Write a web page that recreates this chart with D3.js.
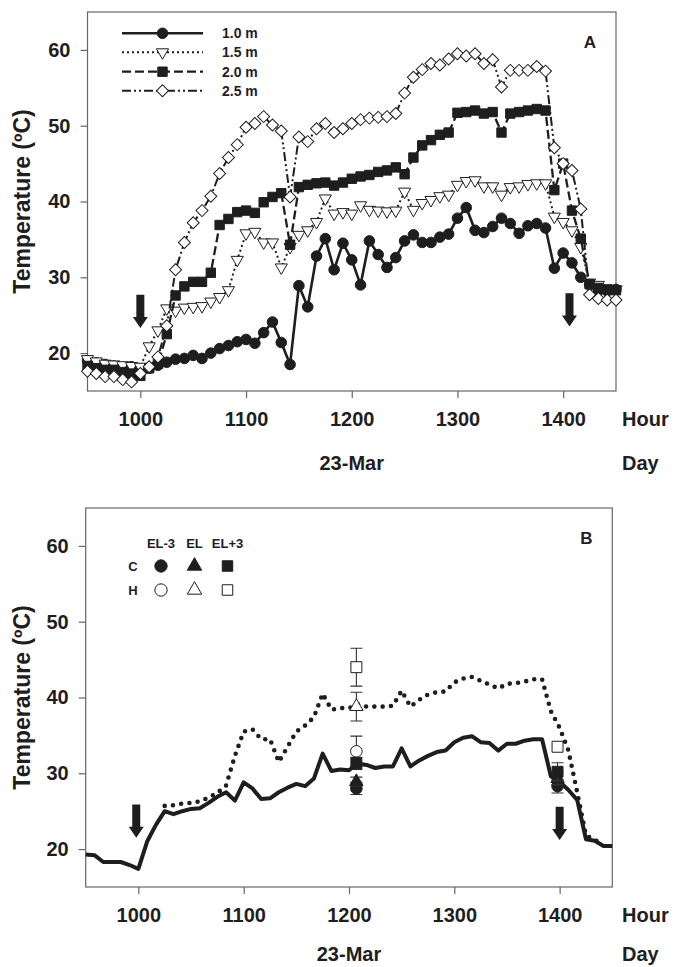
<!DOCTYPE html>
<html>
<head>
<meta charset="utf-8">
<script src="https://cdn.jsdelivr.net/npm/d3@7"></script>
<style>
  body { margin: 0; background: #fff; }
  svg { display: block; }
  text { font-family: "Liberation Sans", Arial, sans-serif; font-weight: bold; fill: #1e1e1e; }
</style>
</head>
<body>
<svg id="chart" width="677" height="967"></svg>
<script>
// sampling grid: one reading every 5 min, 0930 .. 1430 (axis uses hour*100)
const minutes = d3.range(0, 301, 5);
const hours = minutes.map(m => 950 + m * 100 / 60);

const xTicks = [1000, 1100, 1200, 1300, 1400];
const yTicks = [20, 30, 40, 50, 60];

// ---- panel A : temperature at 4 depths
const t10 = [19.0,18.7,18.5,18.3,18.0,18.2,17.6,18.0,18.4,18.8,
             19.2,19.3,19.7,19.3,20.0,20.6,21.0,21.5,21.8,21.3,
             22.7,24.1,21.4,18.5,28.9,26.1,32.8,35.1,31.0,34.5,
             32.3,29.0,34.8,33.0,31.3,32.6,34.8,35.6,34.6,34.6,
             35.3,35.7,37.8,39.2,36.2,35.9,36.7,37.8,37.1,35.8,
             36.8,37.1,36.5,31.2,33.2,31.9,30.0,29.0,28.3,28.2,
             28.4];
const t15 = [19.2,18.9,18.6,18.5,18.4,18.3,18.2,20.9,23.0,25.9,
             25.6,26.0,26.1,26.2,26.8,27.4,28.3,32.3,35.8,36.0,
             34.6,34.6,31.3,34.0,35.6,36.2,37.3,40.4,38.4,38.6,
             38.4,39.5,38.9,38.8,38.7,38.8,41.3,38.9,39.8,40.2,
             40.7,40.9,42.2,42.7,42.8,42.0,42.0,40.9,41.9,42.0,
             42.3,42.4,42.4,38.0,37.3,36.2,34.0,29.3,29.0,28.5,
             28.4];
const t20 = [18.3,18.0,17.8,17.8,17.5,17.3,17.0,18.0,18.6,22.5,
             27.6,28.8,29.4,29.4,30.6,36.9,37.7,38.6,38.8,38.5,
             39.9,40.6,41.1,34.3,41.9,42.2,42.4,42.5,42.1,42.5,
             43.0,43.3,43.5,43.9,44.1,44.5,43.6,45.8,47.4,48.1,
             48.8,49.1,51.7,51.8,52.0,51.6,51.8,49.1,51.6,51.8,
             52.0,52.2,52.0,41.5,45.0,38.8,35.1,29.1,28.6,28.4,
             28.3];
const t25 = [17.6,17.3,16.9,16.9,16.5,16.2,17.3,18.2,19.5,23.6,
             31.0,34.6,37.2,38.8,40.7,43.7,45.8,47.5,49.8,50.3,
             51.2,50.1,49.3,40.6,48.5,47.9,49.6,50.3,49.1,49.6,
             50.3,50.8,51.0,51.1,51.2,51.6,54.3,56.4,57.4,58.2,
             58.0,58.8,59.5,59.2,59.5,58.2,58.7,55.1,57.3,57.3,
             57.3,57.8,57.2,47.1,45.0,44.1,39.0,27.7,27.2,27.0,
             27.0];
const depthLabels = ["1.0 m", "1.5 m", "2.0 m", "2.5 m"];

// ---- panel B : two traces + point measurements
const bSolid = [19.3,19.2,18.3,18.3,18.3,17.9,17.4,21.0,23.2,25.0,
                24.6,25.0,25.3,25.4,26.1,26.9,27.5,26.4,28.8,28.0,
                26.6,26.7,27.5,28.1,28.6,28.3,29.3,32.6,30.3,30.5,
                30.4,31.3,31.1,30.7,30.9,30.9,33.3,30.9,31.7,32.3,
                32.8,33.0,34.1,34.7,34.9,34.1,34.0,33.0,33.9,33.9,
                34.3,34.5,34.5,29.6,28.9,27.8,26.5,21.3,21.1,20.4,
                20.4];
const bDottedStart = 9;   // dotted trace starts at sample 9 (1025)
const bDotted = [25.7,25.8,26.0,26.1,26.3,26.8,27.4,28.4,32.3,35.5,
                 35.8,34.5,34.5,31.5,33.5,35.5,36.3,37.4,40.5,38.4,
                 38.6,38.6,39.1,38.8,38.8,38.8,38.9,40.9,38.8,39.7,
                 40.4,40.7,40.8,42.0,42.5,42.7,42.2,41.7,41.2,41.8,
                 41.9,42.1,42.4,42.4,38.2,36.0,33.0,27.5,21.8,21.2,
                 20.6];

const obsHours = [1207, 1398];
const cELm3 = [28.0, 28.3], cELm3Err = [0.8, 0.9];
const cEL   = [28.9, 29.3], cELErr   = [0.6, 0.8];
const cELp3 = [31.3, 30.2], cELp3Err = [0.8, 1.2];
const hELm3 = [32.9, null], hELm3Err = [2.0, 0];
const hEL   = [38.8, null], hELErr   = [1.9, 0];
const hELp3 = [44.0, 33.5], hELp3Err = [2.5, 0];
const legendCols = ["EL-3", "EL", "EL+3"];

// arrows (hour, top temp, tip temp)
const arrowsA = [[1000, 27.7, 23.3], [1406, 27.9, 23.5]];
const arrowsB = [[998, 25.9, 21.5], [1400, 25.6, 21.2]];

const ink = "#1e1e1e";
const svg = d3.select("#chart");

const xA = d3.scaleLinear().domain([950, 1450]).range([87.5, 616]);
const yA = d3.scaleLinear().domain([15, 65]).range([391, 12]);
const xB = d3.scaleLinear().domain([950, 1450]).range([85.7, 612.3]);
const yB = d3.scaleLinear().domain([15, 65]).range([887, 508]);

function frameAndAxes(x, y, letter, dayGap) {
  const [x0, x1] = x.range();
  const [yb, yt] = y.range();
  svg.append("rect")
    .attr("x", x0).attr("y", yt).attr("width", x1 - x0).attr("height", yb - yt)
    .attr("fill", "none").attr("stroke", "#666").attr("stroke-width", 1.2);

  const gy = svg.append("g").attr("transform", `translate(${x0},0)`)
    .call(d3.axisLeft(y).tickValues(yTicks).tickSize(7).tickPadding(10));
  const gx = svg.append("g").attr("transform", `translate(0,${yb})`)
    .call(d3.axisBottom(x).tickValues(xTicks).tickSize(7).tickPadding(14).tickFormat(d3.format("d")));
  [gx, gy].forEach(g => {
    g.select(".domain").remove();
    g.attr("font-size", 20).attr("font-family", null);
    g.selectAll("line").attr("stroke", "#666").attr("stroke-width", 1.2);
    g.selectAll("text").attr("fill", ink);
  });

  svg.append("text").attr("x", 622).attr("y", yb + 35).attr("font-size", 20).text("Hour");
  svg.append("text").attr("x", 622).attr("y", yb + dayGap).attr("font-size", 20).text("Day");
  svg.append("text").attr("x", x(1200)).attr("y", yb + dayGap).attr("font-size", 20)
    .attr("text-anchor", "middle").text("23-Mar");

  svg.append("text")
    .attr("transform", `translate(30,${(yb + yt) / 2}) rotate(-90)`)
    .attr("text-anchor", "middle").attr("font-size", 23)
    .text("Temperature (ºC)");

  svg.append("text").attr("x", x1 - 26).attr("y", yt + 36).attr("font-size", 17)
    .attr("text-anchor", "middle").text(letter);
}

function drawArrows(list, x, y) {
  svg.append("g").selectAll("path").data(list).join("path")
    .attr("fill", ink)
    .attr("d", d => {
      const cx = x(d[0]), top = y(d[1]), tip = y(d[2]), hs = tip - 11;
      return `M${cx - 4},${top}L${cx + 4},${top}L${cx + 4},${hs}L${cx + 7.5},${hs}L${cx},${tip}L${cx - 7.5},${hs}L${cx - 4},${hs}Z`;
    });
}

const symbolPath = (type, size) => d3.symbol(type === "circle" ? d3.symbolCircle :
  (type === "square" || type === "diamond") ? d3.symbolSquare : d3.symbolTriangle, size)();
const symbolRot = type => type === "diamond" ? 45 : type === "tridown" ? 180 : 0;

// ================= PANEL A =================
frameAndAxes(xA, yA, "A", 79);

const styleA = [
  { values: t10, dash: null, width: 2.6, sym: "circle", size: 88, fill: ink },
  { values: t15, dash: "2,3", width: 2, sym: "tridown", size: 64, fill: "#fff" },
  { values: t20, dash: "9,4", width: 2.3, sym: "square", size: 88, fill: ink },
  { values: t25, dash: "9,3,2,3,2,3", width: 2, sym: "diamond", size: 72, fill: "#fff" }
];

const lineA = d3.line().x((d, i) => xA(hours[i])).y(d => yA(d));
styleA.forEach(s => {
  const g = svg.append("g");
  g.append("path").datum(s.values).attr("d", lineA)
    .attr("fill", "none").attr("stroke", ink).attr("stroke-width", s.width)
    .attr("stroke-dasharray", s.dash);
  g.selectAll("path.mk").data(s.values).join("path").attr("class", "mk")
    .attr("d", symbolPath(s.sym, s.size))
    .attr("transform", (d, i) => `translate(${xA(hours[i])},${yA(d)}) rotate(${symbolRot(s.sym)})`)
    .attr("fill", s.fill).attr("stroke", ink).attr("stroke-width", 1);
});

drawArrows(arrowsA, xA, yA);

// legend A
const legRowsA = [33.3, 52.3, 71.7, 90.7];
styleA.forEach((s, i) => {
  const ly = legRowsA[i];
  svg.append("line").attr("x1", 122).attr("x2", 203).attr("y1", ly).attr("y2", ly)
    .attr("stroke", ink).attr("stroke-width", s.width).attr("stroke-dasharray", s.dash);
  svg.append("path").attr("d", symbolPath(s.sym, s.size))
    .attr("transform", `translate(162.5,${ly}) rotate(${symbolRot(s.sym)})`)
    .attr("fill", s.fill).attr("stroke", ink).attr("stroke-width", 1);
  svg.append("text").attr("x", 222).attr("y", ly).attr("dy", "0.36em")
    .attr("font-size", 14).text(depthLabels[i]);
});

// ================= PANEL B =================
frameAndAxes(xB, yB, "B", 74);

svg.append("path").datum(bSolid)
  .attr("d", d3.line().x((d, i) => xB(hours[i])).y(d => yB(d)))
  .attr("fill", "none").attr("stroke", ink).attr("stroke-width", 4)
  .attr("stroke-linejoin", "round");

svg.append("path").datum(bDotted)
  .attr("d", d3.line().x((d, i) => xB(hours[i + bDottedStart])).y(d => yB(d)))
  .attr("fill", "none").attr("stroke", ink).attr("stroke-width", 4.6)
  .attr("stroke-linecap", "round").attr("stroke-dasharray", "0,8.3");

drawArrows(arrowsB, xB, yB);

const obsSets = [
  { vals: hELm3, err: hELm3Err, sym: "circle", size: 105, fill: "#fff" },
  { vals: hEL,   err: hELErr,   sym: "triangle", size: 78, fill: "#fff" },
  { vals: hELp3, err: hELp3Err, sym: "square", size: 120, fill: "#fff" },
  { vals: cELm3, err: cELm3Err, sym: "circle", size: 105, fill: ink },
  { vals: cEL,   err: cELErr,   sym: "triangle", size: 78, fill: ink },
  { vals: cELp3, err: cELp3Err, sym: "square", size: 120, fill: ink }
];

obsSets.forEach(s => {
  const pts = obsHours.map((h, i) => ({ h, v: s.vals[i], e: s.err[i] })).filter(p => p.v !== null);
  const g = svg.append("g");
  pts.filter(p => p.e > 0).forEach(p => {
    const cx = xB(p.h), lo = yB(p.v - p.e), hi = yB(p.v + p.e);
    g.append("path")
      .attr("d", `M${cx},${lo}V${hi}M${cx - 6},${lo}H${cx + 6}M${cx - 6},${hi}H${cx + 6}`)
      .attr("stroke", "#333").attr("stroke-width", 1.1).attr("fill", "none");
  });
  g.selectAll("path.mk").data(pts).join("path").attr("class", "mk")
    .attr("d", symbolPath(s.sym, s.size))
    .attr("transform", p => `translate(${xB(p.h)},${yB(p.v)})`)
    .attr("fill", s.fill).attr("stroke", ink).attr("stroke-width", 1);
});

// legend B
const legColX = [161, 194.5, 227.5];
legendCols.forEach((c, i) => {
  svg.append("text").attr("x", legColX[i]).attr("y", 543).attr("dy", "0.36em")
    .attr("text-anchor", "middle").attr("font-size", 13).text(c);
});
[["C", 566, ink], ["H", 590, "#fff"]].forEach(([lab, ly, fill]) => {
  svg.append("text").attr("x", 133).attr("y", ly).attr("dy", "0.36em")
    .attr("text-anchor", "middle").attr("font-size", 13).text(lab);
  ["circle", "triangle", "square"].forEach((sym, i) => {
    svg.append("path").attr("d", symbolPath(sym, sym === "circle" ? 120 : sym === "triangle" ? 90 : 110))
      .attr("transform", `translate(${legColX[i]},${ly})`)
      .attr("fill", fill).attr("stroke", ink).attr("stroke-width", 1);
  });
});
</script>
</body>
</html>
